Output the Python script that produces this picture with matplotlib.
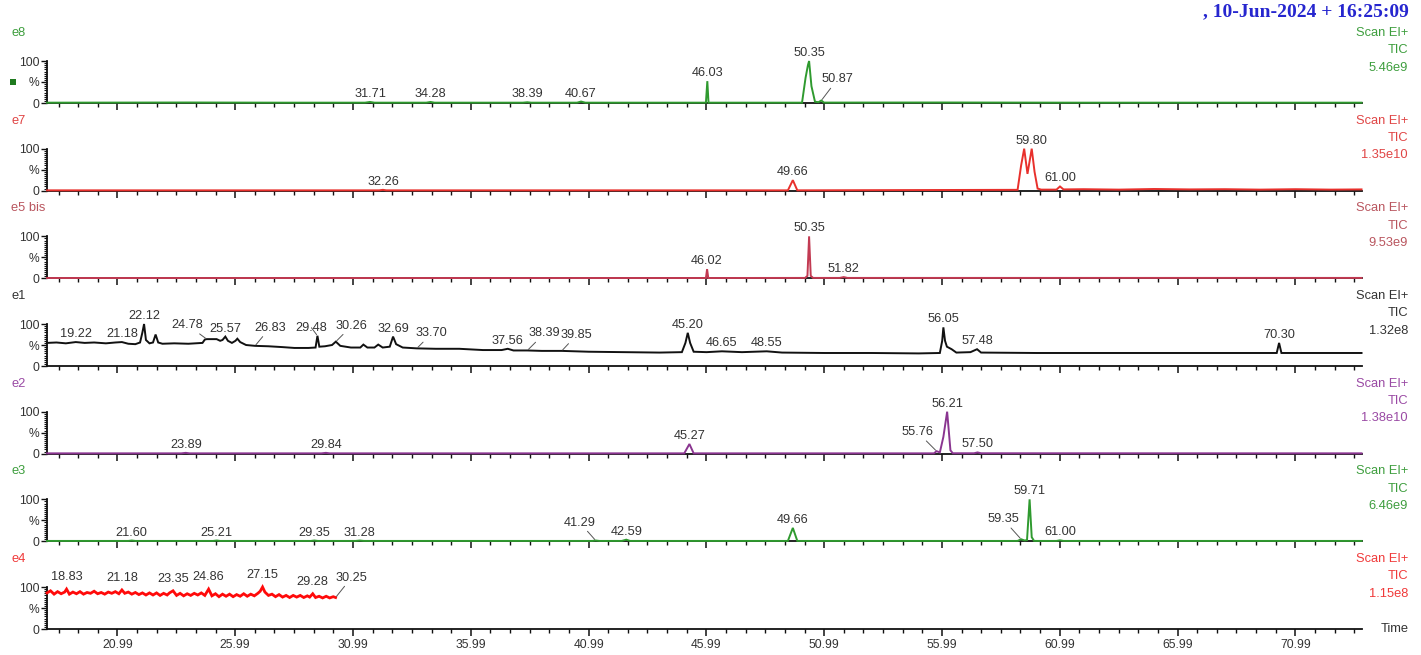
import matplotlib
matplotlib.use("Agg")
import matplotlib.pyplot as plt
from matplotlib.patches import Rectangle
from matplotlib.ticker import MultipleLocator, FixedLocator, FormatStrFormatter

plt.rcParams['font.family'] = ['Liberation Sans', 'DejaVu Sans']

# ---------------------------------------------------------------- data
# retention time (min) / relative intensity (%) for each TIC trace
e8_time = [18.00, 24.0, 28.0, 31.50, 31.71, 31.90, 34.10, 34.28, 34.45, 38.20, 38.39, 38.55,
           40.50, 40.67, 40.85, 45.97, 46.03, 46.08, 50.05, 50.20, 50.30, 50.35, 50.45,
           50.60, 50.75, 50.87, 50.98, 56.0, 62.0, 73.80]
e8_int = [0.8, 1.2, 0.8, 0.8, 2.5, 0.8, 0.8, 2.5, 0.8, 0.8, 1.8, 0.8,
          0.8, 3.5, 0.8, 0.8, 52, 0.8, 0.8, 60, 90, 100, 40,
          3, 2, 6, 1, 1.2, 0.8, 0.8]
e8_peaks = ["31.71", "34.28", "38.39", "40.67", "46.03", "50.35", "50.87"]

e7_time = [18.00, 32.10, 32.26, 32.40, 49.45, 49.66, 49.85, 59.20, 59.35, 59.48, 59.62,
           59.80, 59.92, 60.05, 60.20, 60.85, 61.00, 61.15, 62.0, 63.5, 65.0, 66.5,
           68.0, 69.5, 71.0, 72.5, 73.80]
e7_int = [0.8, 0.8, 2, 0.8, 0.8, 25, 0.8, 2, 60, 100, 40,
          100, 45, 5, 2.5, 2.5, 10, 3, 3.5, 2.5, 4, 3,
          3.5, 2.5, 3.5, 2.5, 3]
e7_peaks = ["32.26", "49.66", "59.80", "61.00"]

e5_time = [18.00, 45.97, 46.02, 46.07, 50.18, 50.28, 50.35, 50.42, 50.52, 51.65, 51.82,
           51.98, 73.80]
e5_int = [0.8, 0.8, 22, 0.8, 1, 6, 100, 6, 1, 1, 3, 1, 1]
e5_peaks = ["46.02", "50.35", "51.82"]

e1_time = [18.00, 18.40, 18.80, 19.22, 19.60, 20.00, 20.50, 20.90, 21.18, 21.45, 21.75,
           21.95, 22.05, 22.12, 22.20, 22.35, 22.50, 22.61, 22.72, 22.90, 23.40, 24.00,
           24.60, 24.70, 24.78, 25.20, 25.35, 25.45, 25.57, 25.68, 25.85, 26.00, 26.08,
           26.20, 26.45, 26.83, 27.40, 28.00, 28.50, 29.10, 29.40, 29.48, 29.56, 29.80,
           30.10, 30.26, 30.45, 30.90, 31.30, 31.43, 31.60, 31.90, 32.06, 32.25, 32.55,
           32.69, 32.82, 33.10, 33.70, 34.50, 35.50, 36.50, 37.30, 37.56, 37.80, 38.39,
           39.00, 39.85, 41.00, 42.50, 44.00, 44.95, 45.10, 45.20, 45.30, 45.45, 46.00,
           46.65, 47.50, 48.55, 49.20, 51.00, 53.00, 55.00, 55.90, 56.00, 56.05, 56.12,
           56.20, 56.40, 56.60, 57.20, 57.48, 57.65, 60.00, 63.00, 66.00, 70.20, 70.30,
           70.40, 73.80]
e1_int = [55, 56, 54, 57, 55, 56, 54, 56, 57, 53, 52,
          56, 80, 100, 62, 54, 56, 75, 56, 53, 54, 53,
          55, 63, 64, 64, 60, 62, 70, 60, 55, 60, 65,
          57, 50, 48, 47, 45, 43, 43, 44, 72, 46, 47,
          50, 58, 48, 44, 44, 51, 44, 44, 51, 44, 46,
          70, 52, 44, 42, 41, 41, 38, 38, 41, 37, 37,
          36, 36, 34, 33, 32, 33, 55, 79, 55, 34, 33,
          35, 33, 35, 32, 31, 31, 30, 31, 60, 92, 60,
          46, 40, 32, 33, 40, 32, 31, 31, 31, 31, 55,
          31, 31]
e1_peaks = ["19.22", "21.18", "22.12", "24.78", "25.57", "26.83", "29.48", "30.26",
            "32.69", "33.70", "37.56", "38.39", "39.85", "45.20", "46.65", "48.55",
            "56.05", "57.48", "70.30"]

e2_time = [18.00, 23.70, 23.89, 24.05, 29.65, 29.84, 30.00, 45.05, 45.27, 45.45, 55.65,
           55.76, 55.90, 56.05, 56.21, 56.35, 56.45, 57.35, 57.50, 57.65, 73.80]
e2_int = [0.8, 0.8, 2, 0.8, 0.8, 2, 0.8, 0.8, 23, 0.8, 0.8,
          6, 3, 40, 100, 8, 1, 1, 3, 1, 0.8]
e2_peaks = ["23.89", "29.84", "45.27", "55.76", "56.21", "57.50"]

e3_time = [18.00, 21.45, 21.60, 21.75, 25.05, 25.21, 25.35, 29.20, 29.35, 29.50, 31.10,
           31.28, 31.45, 41.15, 41.29, 41.45, 42.40, 42.59, 42.75, 49.45, 49.66, 49.85,
           59.20, 59.35, 59.50, 59.60, 59.71, 59.80, 59.90, 60.85, 61.00, 61.15, 73.80]
e3_int = [1, 1, 2, 1, 1, 2, 1, 1, 2, 1, 1,
          2, 1, 1, 2, 1, 1, 4, 1, 1, 32, 1,
          1, 5, 2, 3, 100, 10, 1, 1, 2.5, 1, 1]
e3_peaks = ["21.60", "25.21", "29.35", "31.28", "41.29", "42.59", "49.66", "59.35",
            "59.71", "61.00"]

e4_time = [18.00, 18.15, 18.30, 18.45, 18.60, 18.75, 18.83, 18.95, 19.10, 19.25, 19.40,
           19.55, 19.70, 19.85, 20.00, 20.15, 20.30, 20.45, 20.60, 20.75, 20.90, 21.05,
           21.18, 21.30, 21.45, 21.60, 21.75, 21.90, 22.05, 22.20, 22.35, 22.50, 22.65,
           22.80, 22.95, 23.10, 23.20, 23.35, 23.50, 23.65, 23.80, 23.95, 24.10, 24.25,
           24.40, 24.55, 24.70, 24.86, 25.00, 25.15, 25.30, 25.45, 25.60, 25.75, 25.90,
           26.05, 26.20, 26.35, 26.50, 26.65, 26.80, 26.95, 27.05, 27.15, 27.25, 27.40,
           27.55, 27.70, 27.85, 28.00, 28.15, 28.30, 28.45, 28.60, 28.75, 28.90, 29.05,
           29.15, 29.28, 29.40, 29.55, 29.70, 29.85, 30.00, 30.15, 30.25]
e4_int = [86, 91, 83, 89, 84, 88, 95, 83, 88, 84, 89,
          83, 87, 85, 90, 84, 87, 83, 88, 85, 89, 84,
          93, 85, 88, 83, 87, 82, 86, 81, 86, 81, 86,
          80, 85, 81, 86, 91, 80, 85, 79, 84, 80, 85,
          81, 86, 80, 95, 79, 84, 77, 83, 78, 83, 77,
          82, 78, 84, 78, 83, 79, 85, 90, 100, 88, 80,
          83, 77, 82, 76, 80, 75, 80, 76, 80, 75, 79,
          76, 84, 75, 78, 74, 78, 74, 77, 75]
e4_peaks = ["18.83", "21.18", "23.35", "24.86", "27.15", "29.28", "30.25"]

# panel name, trace, colours, TIC scale
panels = [
    ("e8", e8_time, e8_int, e8_peaks, "#2f9a2f", "#3e9e3e", "5.46e9"),
    ("e7", e7_time, e7_int, e7_peaks, "#e8302c", "#e04545", "1.35e10"),
    ("e5 bis", e5_time, e5_int, e5_peaks, "#c23a52", "#b9555e", "9.53e9"),
    ("e1", e1_time, e1_int, e1_peaks, "#111111", "#333333", "1.32e8"),
    ("e2", e2_time, e2_int, e2_peaks, "#8a3590", "#9a4aa4", "1.38e10"),
    ("e3", e3_time, e3_int, e3_peaks, "#2f9a2f", "#3e9e3e", "6.46e9"),
    ("e4", e4_time, e4_int, e4_peaks, "#ff0a0a", "#f03a3a", "1.15e8"),
]

# label placement (pixel offsets of the text from the apex); leader lines drawn
LEADER = {
    ("e8", "50.87"): (16, 15),
    ("e1", "24.78"): (-19, 8),
    ("e1", "26.83"): (15, 12),
    ("e1", "29.48"): (-6, 2),
    ("e1", "30.26"): (16, 10),
    ("e1", "33.70"): (15, 9),
    ("e1", "38.39"): (17, 11),
    ("e1", "39.85"): (15, 10),
    ("e2", "55.76"): (-19, 13),
    ("e3", "41.29"): (-16, 12),
    ("e3", "59.35"): (-18, 14),
    ("e4", "30.25"): (16, 14),
}
PLAIN_DY = {"e4": 6}

# ---------------------------------------------------------------- layout
W, H = 1421, 655
fig = plt.figure(figsize=(W / 100, H / 100), dpi=100)

X_MIN, X_MAX = 18.0, 73.82
LEFT_PX, RIGHT_PX = 47, 1362
BASE0_PX, PITCH_PX, SPAN_PX = 103, 87.67, 42
TEXT_GREY = "#333333"
LABEL_FS = 9.2
SIDE_FS = 9.3


def fx(px):
    return px / W


def fy(py):
    return 1 - py / H


for k, (name, t, v, peaks, col, tcol, scale) in enumerate(panels):
    base = BASE0_PX + k * PITCH_PX
    ax = fig.add_axes([fx(LEFT_PX), fy(base), (RIGHT_PX - LEFT_PX) / W, SPAN_PX / H])
    ax.set_xlim(X_MIN, X_MAX)
    ax.set_ylim(0, 100)
    ax.patch.set_alpha(0)
    for s in ("top", "right"):
        ax.spines[s].set_visible(False)
    for s in ("left", "bottom"):
        ax.spines[s].set_linewidth(1.3)
        ax.spines[s].set_color("#111111")

    lw = 2.0 if name == "e4" else 1.4
    ax.plot(t, v, color=col, lw=lw, clip_on=False, zorder=3, solid_joinstyle="miter")

    # x ticks
    ax.xaxis.set_major_locator(MultipleLocator(5, offset=0.99))
    ax.xaxis.set_minor_locator(MultipleLocator(5 / 6, offset=0.99))
    ax.tick_params(axis="x", which="major", direction="out", length=5, width=1.1,
                   color="#111111", labelsize=8.7, labelcolor=TEXT_GREY, pad=2)
    ax.tick_params(axis="x", which="minor", direction="out", length=3, width=1.0,
                   color="#111111")
    if k == len(panels) - 1:
        ax.xaxis.set_major_formatter(FormatStrFormatter("%.2f"))
    else:
        ax.tick_params(axis="x", which="both", labelbottom=False)

    # y ticks
    ax.yaxis.set_major_locator(FixedLocator([0, 50, 100]))
    ax.set_yticklabels(["0", "%", "100"])
    ax.yaxis.set_minor_locator(MultipleLocator(5))
    ax.tick_params(axis="y", which="major", direction="out", length=4, width=1.0,
                   color="#111111", labelsize=8.7, labelcolor=TEXT_GREY, pad=1.5)
    ax.tick_params(axis="y", which="minor", direction="out", length=2, width=0.8,
                   color="#111111")

    # peak labels
    for lbl in peaks:
        tv = float(lbl)
        i = min(range(len(t)), key=lambda j: abs(t[j] - tv))
        yv = v[i]
        if (name, lbl) in LEADER:
            dx, dy = LEADER[(name, lbl)]
            ax.annotate(lbl, xy=(t[i], yv), xytext=(dx, dy), textcoords="offset pixels",
                        ha="center", va="bottom", fontsize=LABEL_FS, color=TEXT_GREY,
                        annotation_clip=False, zorder=5,
                        arrowprops=dict(arrowstyle="-", lw=0.7, color="#555555",
                                        shrinkA=0, shrinkB=1))
        else:
            dy = PLAIN_DY.get(name, 2)
            ax.annotate(lbl, xy=(t[i], yv), xytext=(0, dy), textcoords="offset pixels",
                        ha="center", va="bottom", fontsize=LABEL_FS, color=TEXT_GREY,
                        annotation_clip=False, zorder=5)

    # series name and acquisition info
    fig.text(fx(11), fy(base - 70), name, ha="left", va="center", fontsize=SIDE_FS,
             color=tcol)
    for j, line in enumerate(["Scan EI+", "TIC", scale]):
        fig.text(fx(1408), fy(base - 70 + 17.3 * j), line, ha="right", va="center",
                 fontsize=SIDE_FS, color=tcol)

fig.text(fx(1395), fy(BASE0_PX + 6 * PITCH_PX), "Time", ha="center", va="center",
         fontsize=SIDE_FS, color=TEXT_GREY)

fig.text(fx(1409), fy(12), ", 10-Jun-2024 + 16:25:09", ha="right", va="center",
         fontfamily="Liberation Serif", fontweight="bold", fontsize=14, color="#2626cf")

fig.add_artist(Rectangle((fx(10), fy(85)), 6 / W, 6 / H, transform=fig.transFigure,
                         color="#1f7a1f", lw=0))

fig.savefig("out.png", dpi=100, facecolor="white")
